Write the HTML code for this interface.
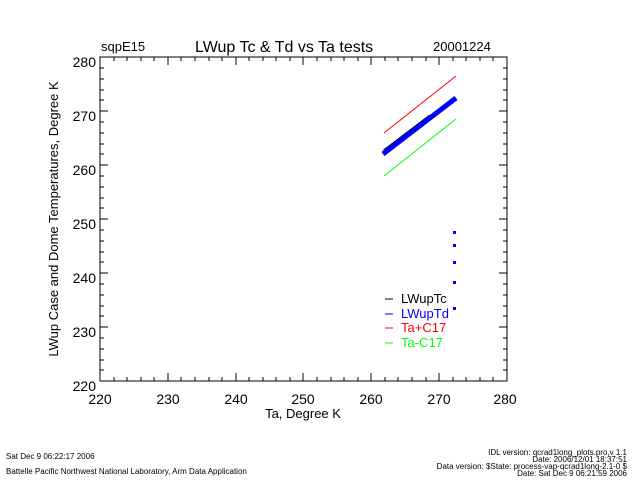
<!DOCTYPE html>
<html><head><style>
body{margin:0;background:#fff;}
svg text{font-family:"Liberation Sans",sans-serif;}
</style></head><body>
<svg width="640" height="480" xmlns="http://www.w3.org/2000/svg">
<rect width="640" height="480" fill="#fff"/>
<g font-size="13" fill="#000">
<text x="101" y="51">sqpE15</text>
<text x="195" y="52" font-size="16">LWup Tc &amp; Td vs Ta tests</text>
<text x="433" y="51">20001224</text>
</g>
<rect x="100" y="57" width="407" height="324" fill="none" stroke="#000" stroke-width="1"/>
<g stroke="#000" stroke-width="1">
<path d="M100 381v-8M168 381v-8M236 381v-8M303 381v-8M371 381v-8M439 381v-8M507 381v-8
M100 57v8M168 57v8M236 57v8M303 57v8M371 57v8M439 57v8M507 57v8"/>
<path d="M114 381v-4M127 381v-4M141 381v-4M154 381v-4M181 381v-4M195 381v-4M209 381v-4M222 381v-4M249 381v-4M263 381v-4M276 381v-4M290 381v-4M317 381v-4M331 381v-4M344 381v-4M358 381v-4M385 381v-4M398 381v-4M412 381v-4M426 381v-4M453 381v-4M466 381v-4M480 381v-4M493 381v-4
M114 57v4M127 57v4M141 57v4M154 57v4M181 57v4M195 57v4M209 57v4M222 57v4M249 57v4M263 57v4M276 57v4M290 57v4M317 57v4M331 57v4M344 57v4M358 57v4M385 57v4M398 57v4M412 57v4M426 57v4M453 57v4M466 57v4M480 57v4M493 57v4"/>
<path d="M100 57h8M100 111h8M100 165h8M100 219h8M100 273h8M100 327h8M100 381h8
M507 57h-8M507 111h-8M507 165h-8M507 219h-8M507 273h-8M507 327h-8M507 381h-8"/>
<path d="M100 68h4M100 79h4M100 90h4M100 100h4M100 122h4M100 133h4M100 144h4M100 154h4M100 176h4M100 187h4M100 198h4M100 208h4M100 230h4M100 241h4M100 252h4M100 262h4M100 284h4M100 295h4M100 306h4M100 316h4M100 338h4M100 349h4M100 360h4M100 370h4
M507 68h-4M507 79h-4M507 90h-4M507 100h-4M507 122h-4M507 133h-4M507 144h-4M507 154h-4M507 176h-4M507 187h-4M507 198h-4M507 208h-4M507 230h-4M507 241h-4M507 252h-4M507 262h-4M507 284h-4M507 295h-4M507 306h-4M507 316h-4M507 338h-4M507 349h-4M507 360h-4M507 370h-4"/>
</g>
<g font-size="14" fill="#000" text-anchor="end">
<text x="96" y="67">280</text><text x="96" y="121">270</text><text x="96" y="175">260</text>
<text x="96" y="229">250</text><text x="96" y="283">240</text><text x="96" y="337">230</text><text x="96" y="391">220</text>
</g>
<g font-size="14" fill="#000" text-anchor="middle">
<text x="100" y="404">220</text><text x="168" y="404">230</text><text x="236" y="404">240</text>
<text x="303" y="404">250</text><text x="371" y="404">260</text><text x="439" y="404">270</text><text x="505" y="404">280</text>
</g>
<text x="303" y="418" font-size="13" text-anchor="middle">Ta, Degree K</text>
<text transform="translate(58,219) rotate(-90)" font-size="13" text-anchor="middle">LWup Case and Dome Temperatures, Degree K</text>
<line x1="384" y1="133" x2="456" y2="76" stroke="#f00" stroke-width="1"/>
<line x1="384" y1="176" x2="456" y2="119" stroke="#0f0" stroke-width="1"/>
<line x1="384" y1="151" x2="430" y2="116" stroke="#000" stroke-width="3"/>
<line x1="383" y1="154" x2="456" y2="98" stroke="#00f" stroke-width="5"/>
<g fill="#00f">
<rect x="453" y="231" width="3" height="3"/><rect x="453" y="244" width="3" height="3"/>
<rect x="453" y="261" width="3" height="3"/><rect x="453" y="281" width="3" height="3"/>
<rect x="453" y="307" width="3" height="3"/>
</g>
<g font-size="13">
<line x1="385" y1="299" x2="393" y2="299" stroke="#000"/><text x="401" y="303" fill="#000">LWupTc</text>
<line x1="385" y1="314" x2="393" y2="314" stroke="#00f"/><text x="401" y="318" fill="#00f">LWupTd</text>
<line x1="385" y1="328" x2="393" y2="328" stroke="#f00"/><text x="401" y="332" fill="#f00">Ta+C17</text>
<line x1="385" y1="343" x2="393" y2="343" stroke="#0f0"/><text x="401" y="347" fill="#0f0">Ta-C17</text>
</g>
<g font-size="8" fill="#000">
<text x="6" y="459">Sat Dec  9 06:22:17 2006</text>
<text x="6" y="474">Battelle Pacific Northwest National Laboratory, Arm Data Application</text>
<text x="627" y="455" text-anchor="end">IDL version: qcrad1long_plots.pro,v 1.1</text>
<text x="627" y="462" text-anchor="end">Date: 2006/12/01 18:37:51</text>
<text x="627" y="469" text-anchor="end">Data version: $State: process-vap-qcrad1long-2.1-0 $</text>
<text x="627" y="476" text-anchor="end">Date: Sat Dec  9 06:21:59 2006</text>
</g>
</svg>
</body></html>
